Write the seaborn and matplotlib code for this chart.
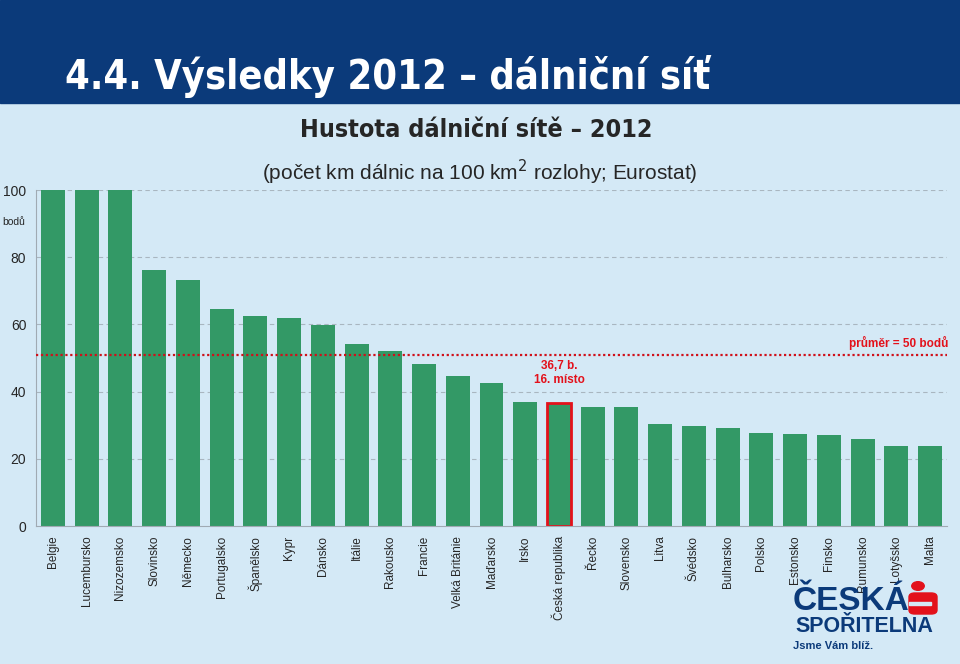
import matplotlib
matplotlib.use('Agg')
import matplotlib.pyplot as plt
import seaborn as sns
import pandas as pd
from matplotlib.patches import Rectangle, Circle, FancyBboxPatch

# data
countries = ['Belgie', 'Lucembursko', 'Nizozemsko', 'Slovinsko', 'Německo', 'Portugalsko',
             'Španělsko', 'Kypr', 'Dánsko', 'Itálie', 'Rakousko', 'Francie', 'Velká Británie',
             'Maďarsko', 'Irsko', 'Česká republika', 'Řecko', 'Slovensko', 'Litva', 'Švédsko',
             'Bulharsko', 'Polsko', 'Estonsko', 'Finsko', 'Rumunsko', 'Lotyšsko', 'Malta']
points = [100, 100, 100, 76.2, 73.2, 64.6, 62.5, 61.9, 59.8, 54.2, 52.1, 48.2, 44.6,
          42.6, 36.9, 36.7, 35.4, 35.4, 30.4, 29.8, 29.2, 27.7, 27.4, 27.1, 25.9, 23.8, 23.8]
average = 50.8
highlight = 'Česká republika'
yticks = [0, 20, 40, 60, 80, 100]

df = pd.DataFrame({'country': countries, 'points': points})

sns.set_style('white')
plt.rcParams['font.family'] = ['Liberation Sans', 'DejaVu Sans']
narrow = ['Liberation Sans Narrow', 'DejaVu Sans', 'Liberation Sans']

bg = '#d4e9f6'
navy = '#0b3a7a'
green = '#339966'
red = '#e3111b'

fig = plt.figure(figsize=(9.6, 6.64), dpi=100, facecolor=bg)
# banner
fig.patches.append(Rectangle((0, 1 - 103 / 664), 1, 103 / 664, transform=fig.transFigure,
                             color=navy, zorder=0))
fig.text(65 / 960, 1 - 76 / 664, '4.4. Výsledky 2012 – dálniční síť', color='white',
         fontsize=28.5, fontweight='bold', fontstretch='condensed', va='center', ha='left',
         family=narrow)

ax = fig.add_axes([36 / 960, 1 - 526 / 664, 911 / 960, 336 / 664])
ax.set_facecolor(bg)
sns.barplot(data=df, x='country', y='points', color=green, width=0.71, saturation=1,
            linewidth=0, ax=ax)

# highlight the Czech bar
idx = countries.index(highlight)
bar = ax.patches[idx]
bar.set_edgecolor(red)
bar.set_linewidth(2)

ax.set_xlim(-0.5, len(countries) - 0.5)
ax.set_ylim(0, 100)
ax.set_yticks(yticks)
ax.set_yticklabels([str(t) for t in yticks], fontsize=10)
for t in yticks[1:]:
    ax.axhline(t, color='#a9b6c0', lw=0.8, ls=(0, (4, 3)), zorder=0)
ax.axhline(average, color='#d0101a', lw=1.6, ls=(0, (1, 1.2)), zorder=3)

ax.set_xlabel('')
ax.set_ylabel('')
ax.tick_params(axis='x', rotation=90, labelsize=8.5, length=0, pad=7)
ax.tick_params(axis='y', length=4, color='#a0aab3', pad=3)
ax.set_xticks([i + 0.5 for i in range(len(countries) - 1)], minor=True)
ax.tick_params(axis='x', which='minor', length=4, color='#a0aab3')
for lbl in ax.get_xticklabels():
    lbl.set_va('top')
for s in ['top', 'right']:
    ax.spines[s].set_visible(False)
ax.spines['left'].set_color('#a0aab3')
ax.spines['bottom'].set_color('#a0aab3')

ax.text(-1.5, 90.5, 'bodů', fontsize=7.5, ha='left', va='center', clip_on=False)
ax.text(len(countries) - 0.45, average + 1.5, 'průměr = 50 bodů', color=red,
        fontsize=8.5, fontweight='bold', ha='right', va='bottom')
ax.text(idx, points[idx] + 5, '36,7 b.\n16. místo', color=red, fontsize=8.5,
        fontweight='bold', ha='center', va='bottom', linespacing=1.2)

fig.text(0.496, 1 - 130 / 664, 'Hustota dálniční sítě – 2012', fontsize=18,
         fontweight='bold', fontstretch='condensed', ha='center', va='center', family=narrow)
fig.text(0.5, 1 - 172 / 664, '(počet km dálnic na 100 km$^2$ rozlohy; Eurostat)',
         fontsize=15, ha='center', va='center')

# logo
fig.text(793 / 960, 1 - 602 / 664, 'ČESKÁ', color=navy, fontsize=24, fontweight='bold',
         ha='left', va='center')
fig.patches.append(FancyBboxPatch((909 / 960, 1 - 614 / 664), 28 / 960, 21 / 664,
                                  boxstyle='round,pad=0,rounding_size=0.006',
                                  transform=fig.transFigure, color=red, zorder=2))
fig.patches.append(Rectangle((909 / 960, 1 - 604.5 / 664), 22 / 960, 2.5 / 664,
                             transform=fig.transFigure, color=bg, zorder=3))
fig.patches.append(Circle((918 / 960, 1 - 586 / 664), 0.0065, transform=fig.transFigure,
                          color=red, zorder=2))
fig.text(795 / 960, 1 - 627 / 664, 'SPOŘITELNA', color=navy, fontsize=15.5, fontweight='bold',
         ha='left', va='center')
fig.text(793 / 960, 1 - 646 / 664, 'Jsme Vám blíž.', color=navy, fontsize=8, fontweight='bold',
         ha='left', va='center')

fig.savefig('out.png', dpi=100, facecolor=bg)
